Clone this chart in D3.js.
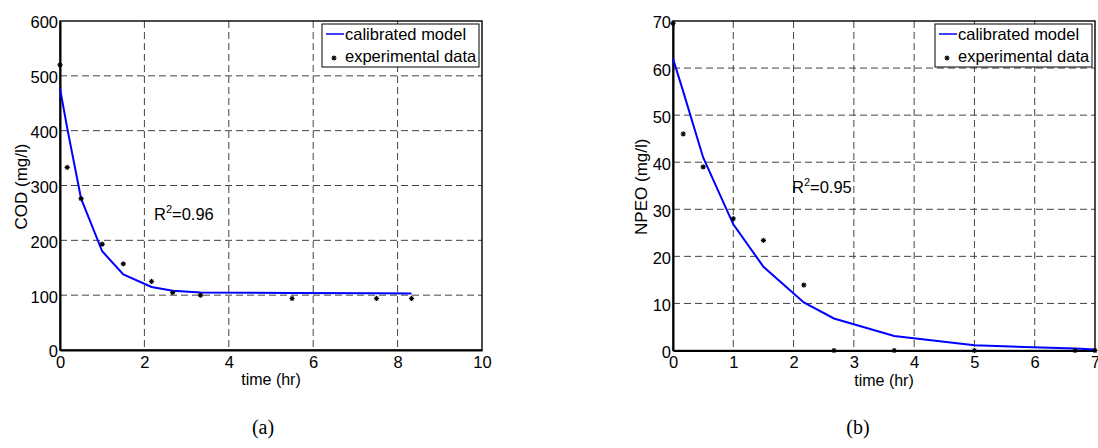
<!DOCTYPE html>
<html>
<head>
<meta charset="utf-8">
<script src="https://cdn.jsdelivr.net/npm/d3@7"></script>
<style>
    body { margin: 0; background: #fff; }
    svg { display: block; }
</style>
</head>
<body>
<svg id="chart" width="1098" height="448"></svg>
<script>
'use strict';

// panel (a): COD
var codTime = [0, 0.17, 0.5, 1, 1.5, 2.17, 2.67, 3.33, 5.5, 7.5, 8.33];
var codObserved = [520, 333, 276, 193, 157, 125, 105, 100, 94, 94, 94];
var codModel = [477, 405, 276, 180, 138, 115, 108, 105, 104, 103.5, 103];
var codXTicks = [0, 2, 4, 6, 8, 10];
var codYTicks = [0, 100, 200, 300, 400, 500, 600];

// panel (b): NPEO
var npeoTime = [0, 0.17, 0.5, 1, 1.5, 2.17, 2.67, 3.67, 5, 6.67, 7];
var npeoObserved = [69.5, 46, 39, 28, 23.4, 13.9, 0, 0, 0, 0, 0];
var npeoModel = [62, 55, 41, 26.8, 17.8, 10.2, 6.8, 3.1, 1.1, 0.4, 0.2];
var npeoXTicks = [0, 1, 2, 3, 4, 5, 6, 7];
var npeoYTicks = [0, 10, 20, 30, 40, 50, 60, 70];

var legendLabels = ['calibrated model', 'experimental data'];

var SANS = 'Arial, "Liberation Sans", sans-serif';
var SERIF = '"Times New Roman", "Liberation Serif", serif';

var svg = d3.select('#chart');

function asterisk(g, x, y) {
    var r = 2.6, q = r * 0.7;
    var d = 'M' + (x - r) + ',' + y + 'H' + (x + r) +
        'M' + x + ',' + (y - r) + 'V' + (y + r) +
        'M' + (x - q) + ',' + (y - q) + 'L' + (x + q) + ',' + (y + q) +
        'M' + (x - q) + ',' + (y + q) + 'L' + (x + q) + ',' + (y - q);
    g.append('path').attr('d', d).attr('stroke', '#000').attr('stroke-width', 1.1).attr('fill', 'none');
}

function label(g) {
    return g.append('text').style('font-family', SANS).attr('fill', '#000');
}

function drawPanel(p) {
    var x = d3.scaleLinear().domain(p.xDomain).range([p.left, p.right]);
    var y = d3.scaleLinear().domain(p.yDomain).range([p.bottom, p.top]);
    var g = svg.append('g');

    // grid
    g.append('g').selectAll('line')
        .data(p.xTicks.slice(1, -1))
        .enter().append('line')
        .attr('x1', x).attr('x2', x)
        .attr('y1', p.top).attr('y2', p.bottom)
        .attr('stroke', '#444').attr('stroke-dasharray', '7,4');
    g.append('g').selectAll('line')
        .data(p.yTicks.slice(1, -1))
        .enter().append('line')
        .attr('y1', y).attr('y2', y)
        .attr('x1', p.left).attr('x2', p.right)
        .attr('stroke', '#444').attr('stroke-dasharray', '7,4');

    // frame
    g.append('rect')
        .attr('x', p.left).attr('y', p.top)
        .attr('width', p.right - p.left).attr('height', p.bottom - p.top)
        .attr('fill', 'none').attr('stroke', '#000').attr('stroke-width', 1.4);

    // axes
    var xAxis = d3.axisBottom(x).tickValues(p.xTicks).tickSize(0).tickPadding(6).tickFormat(d3.format('d'));
    var yAxis = d3.axisLeft(y).tickValues(p.yTicks).tickSize(0).tickPadding(2).tickFormat(d3.format('d'));
    var gx = g.append('g').attr('transform', 'translate(0,' + p.bottom + ')').call(xAxis);
    var gy = g.append('g').attr('transform', 'translate(' + p.left + ',0)').call(yAxis);
    [gx, gy].forEach(function(a) {
        a.select('.domain').attr('stroke', '#000').attr('stroke-width', 2);
        a.selectAll('text').attr('font-size', 16.5)
            .style('font-family', SANS).attr('fill', '#000');
    });
    gy.selectAll('text').attr('dy', '0.42em');

    label(g)
        .attr('x', (p.left + p.right) / 2).attr('y', p.bottom + 35)
        .attr('text-anchor', 'middle').attr('font-size', 16)
        .text('time (hr)');
    label(g)
        .attr('transform', 'translate(' + p.yLabelX + ',' + ((p.top + p.bottom) / 2 + 1) + ') rotate(-90)')
        .attr('text-anchor', 'middle').attr('font-size', 17)
        .text(p.yLabel);

    // model line
    var line = d3.line()
        .x(function(d, i) { return x(p.time[i]); })
        .y(function(d) { return y(d); });
    g.append('path')
        .datum(p.model)
        .attr('d', line)
        .attr('fill', 'none').attr('stroke', '#0000ff').attr('stroke-width', 2);

    // observed points
    var pts = g.append('g');
    p.observed.forEach(function(v, i) {
        asterisk(pts, x(p.time[i]), y(v));
    });

    // R squared
    var r2 = label(g).attr('x', p.r2x).attr('y', p.r2y).attr('font-size', 16.5);
    r2.append('tspan').text('R');
    r2.append('tspan').attr('font-size', 11).attr('dy', -7).text('2');
    r2.append('tspan').attr('dy', 7).text('=' + p.r2);

    // legend
    var lw = 157, lh = 43;
    var lx = p.right - 3 - lw, ly = p.top + 3;
    var lg = g.append('g');
    lg.append('rect').attr('x', lx).attr('y', ly).attr('width', lw).attr('height', lh)
        .attr('fill', '#fff').attr('stroke', '#000').attr('stroke-width', 1);
    lg.append('line').attr('x1', lx + 4).attr('x2', lx + 22)
        .attr('y1', ly + 10).attr('y2', ly + 10)
        .attr('stroke', '#0000ff').attr('stroke-width', 1.5);
    asterisk(lg, lx + 12, ly + 34);
    legendLabels.forEach(function(t, i) {
        label(lg).attr('x', lx + 23).attr('y', ly + 16 + i * 22)
            .attr('font-size', 16.5).text(t);
    });

    // caption
    svg.append('text')
        .attr('x', p.captionX).attr('y', 434)
        .attr('text-anchor', 'middle')
        .style('font-family', SERIF)
        .attr('font-size', 20)
        .text(p.caption);
}

drawPanel({
    left: 60, right: 482, top: 21, bottom: 350,
    xDomain: [0, 10], yDomain: [0, 600],
    xTicks: codXTicks, yTicks: codYTicks,
    time: codTime, observed: codObserved, model: codModel,
    yLabel: 'COD (mg/l)', yLabelX: 27,
    r2: '0.96', r2x: 154, r2y: 220,
    caption: '(a)', captionX: 263
});

drawPanel({
    left: 673, right: 1095, top: 21, bottom: 350.5,
    xDomain: [0, 7], yDomain: [0, 70],
    xTicks: npeoXTicks, yTicks: npeoYTicks,
    time: npeoTime, observed: npeoObserved, model: npeoModel,
    yLabel: 'NPEO (mg/l)', yLabelX: 647,
    r2: '0.95', r2x: 792, r2y: 193,
    caption: '(b)', captionX: 858
});
</script>
</body>
</html>
